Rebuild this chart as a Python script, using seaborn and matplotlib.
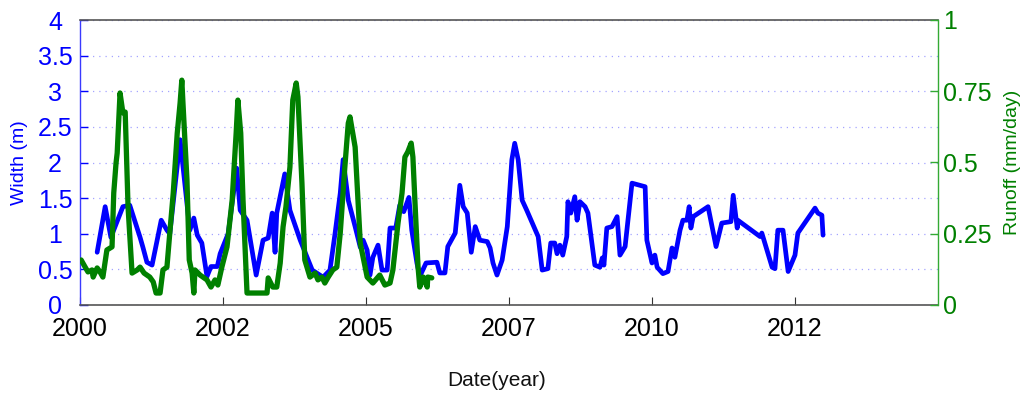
import numpy as np
import pandas as pd
import matplotlib
matplotlib.use("Agg")
import matplotlib.pyplot as plt
import seaborn as sns

# ---- data (decimal years) ----
width_year = [2000.30, 2000.44, 2000.54, 2000.75, 2000.87, 2001.05, 2001.10, 2001.17, 2001.26,
              2001.42, 2001.52, 2001.57, 2001.75, 2001.92, 2001.99, 2002.05, 2002.13, 2002.22,
              2002.29, 2002.40, 2002.45, 2002.59, 2002.74, 2002.80, 2002.92, 2003.08, 2003.20,
              2003.29, 2003.36, 2003.41, 2003.44, 2003.58, 2003.67, 2003.85, 2003.97, 2004.06,
              2004.25, 2004.37, 2004.46, 2004.55, 2004.60, 2004.69, 2004.81, 2004.90, 2004.95,
              2005.02, 2005.07, 2005.12, 2005.21, 2005.28, 2005.37, 2005.42, 2005.52, 2005.59,
              2005.66, 2005.75, 2005.80, 2005.89, 2005.94, 2006.05, 2006.24, 2006.29, 2006.38,
              2006.43, 2006.56, 2006.64, 2006.70, 2006.77, 2006.84, 2006.91, 2006.99, 2007.12,
              2007.17, 2007.22, 2007.29, 2007.38, 2007.47, 2007.55, 2007.60, 2007.66, 2007.73,
              2007.81, 2008.01, 2008.08, 2008.18, 2008.23, 2008.30, 2008.34, 2008.39, 2008.44,
              2008.51, 2008.53, 2008.58, 2008.65, 2008.69, 2008.74, 2008.83, 2008.88, 2008.95,
              2009.00, 2009.09, 2009.13, 2009.16, 2009.21, 2009.30, 2009.39, 2009.44, 2009.53,
              2009.65, 2009.88, 2009.91, 2010.00, 2010.05, 2010.09, 2010.19, 2010.28, 2010.35,
              2010.40, 2010.49, 2010.54, 2010.61, 2010.65, 2010.68, 2010.72, 2010.98, 2011.12,
              2011.22, 2011.38, 2011.42, 2011.49, 2011.50, 2011.89, 2011.92, 2012.10, 2012.15,
              2012.20, 2012.29, 2012.38, 2012.50, 2012.55, 2012.85, 2012.90, 2012.97, 2012.99]
width_m = [0.74, 1.38, 0.95, 1.38, 1.40, 0.95, 0.81, 0.60, 0.56,
           1.19, 1.05, 1.00, 2.32, 1.05, 1.22, 0.98, 0.87, 0.40,
           0.54, 0.54, 0.72, 1.00, 1.92, 1.33, 1.19, 0.42, 0.91,
           0.94, 1.29, 0.74, 1.29, 1.84, 1.33, 0.91, 0.67, 0.49,
           0.39, 0.49, 1.01, 1.57, 2.04, 1.47, 1.10, 0.81, 0.91,
           0.77, 0.42, 0.67, 0.84, 0.49, 0.49, 1.08, 1.08, 1.40,
           1.31, 1.51, 1.05, 0.59, 0.40, 0.59, 0.60, 0.45, 0.45,
           0.82, 1.01, 1.68, 1.38, 1.29, 0.74, 1.10, 0.91, 0.89,
           0.80, 0.59, 0.42, 0.63, 1.10, 2.04, 2.27, 2.04, 1.47,
           1.33, 0.96, 0.49, 0.51, 0.87, 0.87, 0.72, 0.84, 0.70,
           0.96, 1.45, 1.29, 1.52, 1.19, 1.45, 1.38, 1.29, 0.87,
           0.56, 0.53, 0.66, 0.56, 1.08, 1.10, 1.24, 0.70, 0.82,
           1.71, 1.66, 0.91, 0.59, 0.70, 0.53, 0.44, 0.47, 0.80,
           0.67, 1.05, 1.19, 1.19, 1.38, 1.08, 1.24, 1.38, 0.82,
           1.15, 1.17, 1.54, 1.08, 1.19, 0.96, 1.01, 0.53, 0.51,
           1.05, 1.05, 0.47, 0.70, 1.01, 1.36, 1.29, 1.26, 0.98]

runoff_year = [2000.02, 2000.09, 2000.14, 2000.21, 2000.23, 2000.30, 2000.35, 2000.40, 2000.47,
               2000.56, 2000.59, 2000.63, 2000.65, 2000.70, 2000.75, 2000.79, 2000.84, 2000.91,
               2001.00, 2001.05, 2001.12, 2001.22, 2001.28, 2001.33, 2001.40, 2001.45, 2001.52,
               2001.57, 2001.63, 2001.70, 2001.75, 2001.78, 2001.80, 2001.87, 2001.91, 2001.96,
               2001.99, 2002.01, 2002.10, 2002.22, 2002.29, 2002.36, 2002.41, 2002.48, 2002.57,
               2002.66, 2002.73, 2002.76, 2002.81, 2002.85, 2002.92, 2003.27, 2003.29, 2003.37,
               2003.44, 2003.50, 2003.55, 2003.60, 2003.67, 2003.72, 2003.78, 2003.81, 2003.88,
               2003.93, 2004.02, 2004.11, 2004.16, 2004.23, 2004.28, 2004.34, 2004.42, 2004.49,
               2004.55, 2004.63, 2004.69, 2004.72, 2004.81, 2004.90, 2005.02, 2005.12, 2005.24,
               2005.33, 2005.42, 2005.47, 2005.56, 2005.63, 2005.68, 2005.73, 2005.79, 2005.82,
               2005.86, 2005.91, 2005.94, 2006.00, 2006.07, 2006.08, 2006.15]
runoff_mm = [0.158, 0.133, 0.116, 0.123, 0.098, 0.130, 0.116, 0.098, 0.193,
             0.204, 0.393, 0.498, 0.533, 0.744, 0.674, 0.677, 0.344, 0.112,
             0.123, 0.133, 0.112, 0.098, 0.081, 0.042, 0.042, 0.123, 0.133,
             0.253, 0.393, 0.603, 0.709, 0.789, 0.709, 0.439, 0.158, 0.112,
             0.042, 0.123, 0.105, 0.088, 0.063, 0.088, 0.070, 0.133, 0.204,
             0.368, 0.603, 0.719, 0.603, 0.368, 0.042, 0.042, 0.095, 0.063,
             0.063, 0.147, 0.274, 0.344, 0.484, 0.719, 0.779, 0.730, 0.428,
             0.158, 0.098, 0.112, 0.088, 0.098, 0.077, 0.098, 0.123, 0.133,
             0.253, 0.484, 0.638, 0.660, 0.554, 0.217, 0.098, 0.077, 0.105,
             0.070, 0.077, 0.123, 0.288, 0.393, 0.519, 0.537, 0.568, 0.519,
             0.344, 0.133, 0.063, 0.098, 0.063, 0.098, 0.095]

xtick_pos = [2000, 2002.5, 2005, 2007.5, 2010, 2012.5]
xtick_labels = ["2000", "2002", "2005", "2007", "2010", "2012"]
width_ticks = [0, 0.5, 1, 1.5, 2, 2.5, 3, 3.5, 4]
width_tick_labels = ["0", "0.5", "1", "1.5", "2", "2.5", "3", "3.5", "4"]
runoff_ticks = [0, 0.25, 0.5, 0.75, 1]
runoff_tick_labels = ["0", "0.25", "0.5", "0.75", "1"]

df_w = pd.DataFrame({"year": width_year, "width": width_m})
df_r = pd.DataFrame({"year": runoff_year, "runoff": runoff_mm})

sns.set_style("white")
plt.rcParams["font.family"] = ["Liberation Sans", "DejaVu Sans"]

BLUE = "#0000FF"
GREEN = "#008000"

fig = plt.figure(figsize=(10.29, 3.93), dpi=100)
ax = fig.add_axes([80 / 1029, 88 / 393, 858 / 1029, 285 / 393])

sns.lineplot(data=df_w, x="year", y="width", ax=ax, color=BLUE, linewidth=3.4,
             sort=False, estimator=None, legend=False,
             solid_joinstyle="round", solid_capstyle="round")
ax.set_xlim(2000, 2015)
ax.set_ylim(0, 4)
ax.set_yticks(width_ticks)
ax.set_yticklabels(width_tick_labels)
ax.set_xticks(xtick_pos)
ax.set_xticklabels(xtick_labels)
ax.set_axisbelow(True)
ax.yaxis.grid(True, linestyle=(0, (1, 4)), color="#a4a4ff", linewidth=0.9)
ax.xaxis.grid(False)

ax.tick_params(axis="y", which="both", direction="in", length=6, width=1, color=BLUE,
               labelcolor=BLUE, labelsize=18, left=True, right=True, pad=18)
for lbl in ax.get_yticklabels():
    lbl.set_horizontalalignment("center")
ax.tick_params(axis="x", direction="in", length=6, width=0.8, color="#333333",
               labelcolor="black", labelsize=18, bottom=True, top=False, pad=8.5)

ax.set_xlabel("Date(year)", fontsize=15, color="#111111")
ax.xaxis.set_label_coords((497 - 80) / 858, -(381 - 305) / 285)
ax.xaxis.label.set_va("center")
ax.set_ylabel("Width (m)", fontsize=14, color=BLUE)
ax.yaxis.set_label_coords((20 - 80) / 858, 0.5)
ax.yaxis.label.set_va("center")
ax.yaxis.label.set_ha("center")

ax.spines["left"].set_color("#3a3aff")
ax.spines["left"].set_linewidth(1.0)
ax.spines["top"].set_color("#555555")
ax.spines["top"].set_linewidth(1.2)
ax.spines["bottom"].set_color("#555555")
ax.spines["bottom"].set_linewidth(1.2)
ax.spines["right"].set_visible(False)

ax2 = ax.twinx()
sns.lineplot(data=df_r, x="year", y="runoff", ax=ax2, color=GREEN, linewidth=3.8,
             sort=False, estimator=None, legend=False,
             solid_joinstyle="round", solid_capstyle="round")
ax2.set_ylim(0, 1)
ax2.set_xlim(2000, 2015)
ax2.set_yticks(runoff_ticks)
ax2.set_yticklabels(runoff_tick_labels)
ax2.tick_params(axis="y", direction="in", length=6, width=1, color="#33aa33",
                labelcolor=GREEN, labelsize=18, right=True, left=False, pad=3.5)
ax2.set_ylabel("Runoff (mm/day)", fontsize=14, color=GREEN)
ax2.yaxis.set_label_coords((1013 - 80) / 858, 0.5)
ax2.yaxis.label.set_va("center")
ax2.yaxis.label.set_ha("center")
ax2.set_xlabel("")
ax2.grid(False)
for s in ["left", "top", "bottom"]:
    ax2.spines[s].set_visible(False)
ax2.spines["right"].set_color("#33aa33")
ax2.spines["right"].set_linewidth(1.0)

fig.savefig("out.png", dpi=100)
